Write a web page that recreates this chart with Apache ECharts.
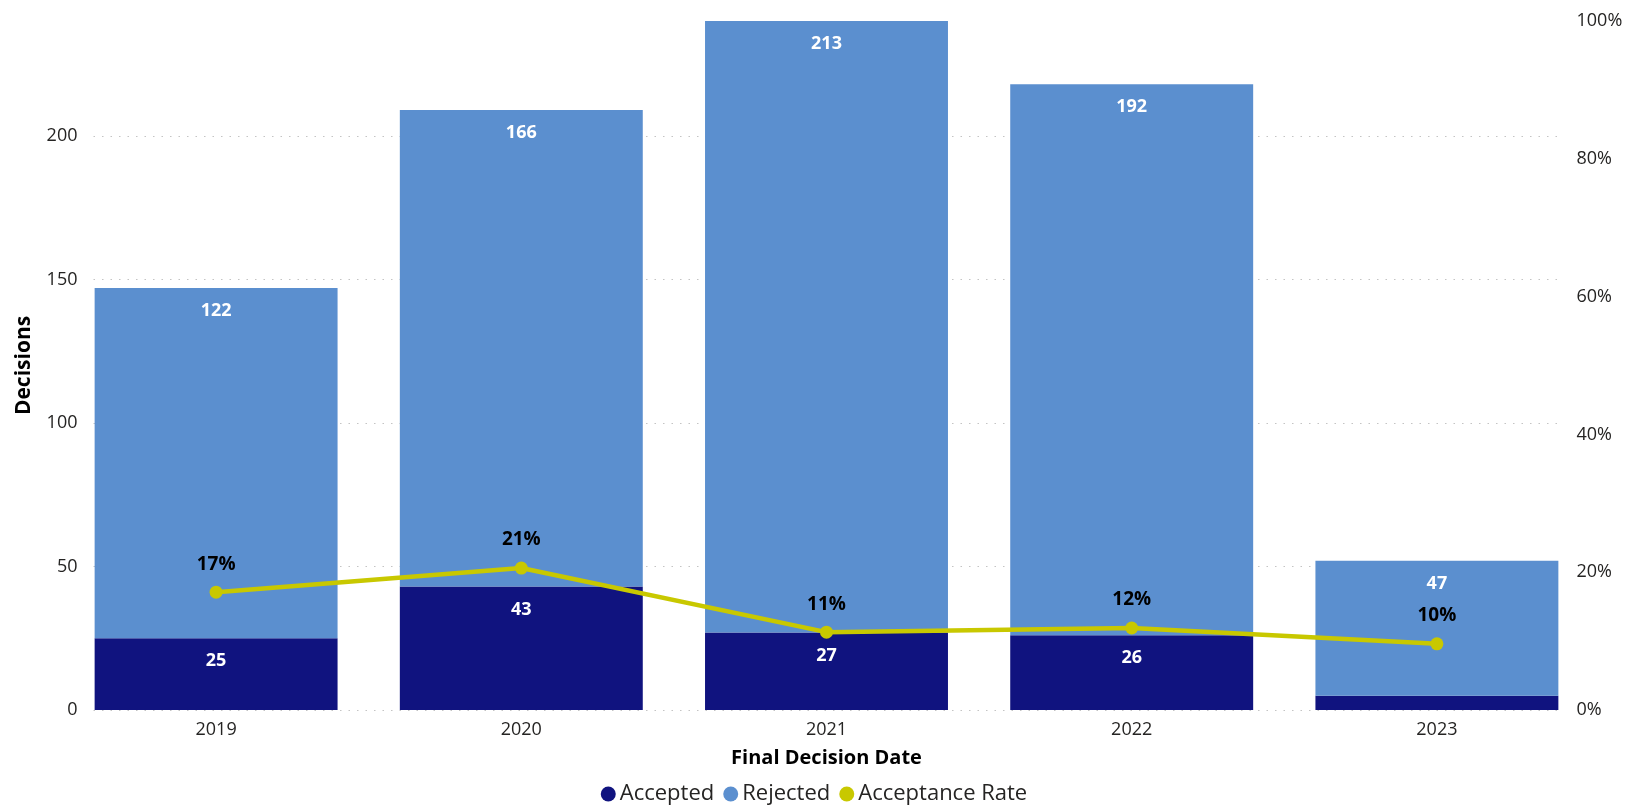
<!DOCTYPE html>
<html>
<head>
<meta charset="utf-8">
<script src="https://cdn.jsdelivr.net/npm/echarts@6/dist/echarts.min.js"></script>
<style>
  html, body { margin: 0; padding: 0; background: #fff; }
  #chart { width: 1628px; height: 811px; }
</style>
</head>
<body>
<div id="chart"></div>
<script>
// Decisions per year, split by outcome, with acceptance rate (%)
const years = ['2019', '2020', '2021', '2022', '2023'];
const accepted = [25, 43, 27, 26, 5];
const rejected = [122, 166, 213, 192, 47];
const acceptanceRate = [17.1, 20.6, 11.3, 11.9, 9.6];
const countTicks = [0, 50, 100, 150, 200];
const rateTicks = [0, 20, 40, 60, 80, 100];

const FONT = '"Open Sans", "Noto Sans", sans-serif';
const C_ACC = '#10137f';
const C_REJ = '#5b8fcf';
const C_RATE = '#c8c800';

const countMax = 240;              // top of the bar scale
const countStep = countTicks[1] - countTicks[0];
const rateStep = rateTicks[1] - rateTicks[0];

// plot area (pixels)
const W = 1628, H = 811;
const plotTop = 21, plotBottom = 101;
const barsLeft = 93.5, barsRight = 68.5;     // outer edges of first/last bar
const halfGap = 30;                          // half of the space between bars
const tickTopPx = plotTop + (H - plotBottom - plotTop) * (1 - countTicks[countTicks.length - 1] / countMax);
const plotCenterX = barsLeft + (W - barsLeft - barsRight) / 2;

const chart = echarts.init(document.getElementById('chart'));

const barLabel = {
  show: true, position: 'insideTop', distance: 14, color: '#fff',
  fontSize: 18, fontWeight: 'bold', fontFamily: FONT
};

chart.setOption({
  animation: false,
  textStyle: { fontFamily: FONT },
  grid: [
    // gridlines + left count labels
    { left: barsLeft, right: barsRight, top: tickTopPx, bottom: plotBottom },
    // bars, line, category labels
    { left: barsLeft - halfGap, right: barsRight - halfGap, top: plotTop, bottom: plotBottom },
    // right percentage labels
    { left: barsLeft, right: barsRight, top: plotTop, bottom: plotBottom }
  ],
  xAxis: [
    { gridIndex: 0, type: 'category', data: years, show: false },
    {
      gridIndex: 1, type: 'category', data: years,
      axisLine: { show: false }, axisTick: { show: false },
      axisLabel: { color: '#252423', fontSize: 18, margin: 11, fontFamily: FONT }
    },
    { gridIndex: 2, type: 'category', data: years, show: false }
  ],
  yAxis: [
    {
      gridIndex: 0, type: 'value', min: countTicks[0], max: countTicks[countTicks.length - 1], interval: countStep,
      axisLine: { show: false }, axisTick: { show: false },
      axisLabel: { color: '#252423', fontSize: 18, margin: 16, fontFamily: FONT },
      splitLine: { show: true, lineStyle: { color: '#c4c4c4', width: 1.2, type: [1.5, 7] } }
    },
    {
      gridIndex: 1, type: 'value', min: 0, max: countMax,
      name: 'Decisions', nameLocation: 'middle', nameGap: 29,
      nameTextStyle: { fontSize: 21, fontWeight: 'bold', color: '#000', fontFamily: FONT },
      axisLine: { show: false }, axisTick: { show: false }, axisLabel: { show: false },
      splitLine: { show: false }
    },
    { gridIndex: 1, type: 'value', min: rateTicks[0], max: rateTicks[rateTicks.length - 1], show: false, splitLine: { show: false } },
    {
      gridIndex: 2, type: 'value', position: 'right',
      min: rateTicks[0], max: rateTicks[rateTicks.length - 1], interval: rateStep,
      axisLine: { show: false }, axisTick: { show: false }, splitLine: { show: false },
      axisLabel: { color: '#252423', fontSize: 18, margin: 17, fontFamily: FONT, formatter: v => v + '%' }
    }
  ],
  graphic: [{
    type: 'text',
    x: plotCenterX,
    y: 758,
    style: {
      text: 'Final Decision Date', font: 'bold 20px ' + FONT, fill: '#000',
      align: 'center', verticalAlign: 'middle'
    }
  }],
  legend: {
    bottom: 1,
    left: 'center',
    icon: 'circle',
    itemWidth: 15,
    itemHeight: 15,
    itemGap: 9,
    textStyle: { fontSize: 22, color: '#252423', fontFamily: FONT, padding: [0, 0, 0, -1] },
    data: ['Accepted', 'Rejected', 'Acceptance Rate']
  },
  series: [
    {
      name: 'Accepted', type: 'bar', stack: 'total', xAxisIndex: 1, yAxisIndex: 1,
      data: accepted, barWidth: '79.6%', itemStyle: { color: C_ACC },
      label: Object.assign({}, barLabel, { formatter: p => (p.value >= 10 ? p.value : '') })
    },
    {
      name: 'Rejected', type: 'bar', stack: 'total', xAxisIndex: 1, yAxisIndex: 1,
      data: rejected, barWidth: '79.6%', itemStyle: { color: C_REJ },
      label: barLabel
    },
    {
      name: 'Acceptance Rate', type: 'line', xAxisIndex: 1, yAxisIndex: 2,
      data: acceptanceRate, z: 5,
      symbol: 'circle', symbolSize: 13,
      lineStyle: { color: C_RATE, width: 4.5 },
      itemStyle: { color: C_RATE },
      label: {
        show: true, position: 'top', distance: 12, color: '#000', fontSize: 19, fontWeight: 'bold', fontFamily: FONT,
        formatter: p => Math.round(p.value) + '%'
      }
    }
  ]
});
</script>
</body>
</html>
